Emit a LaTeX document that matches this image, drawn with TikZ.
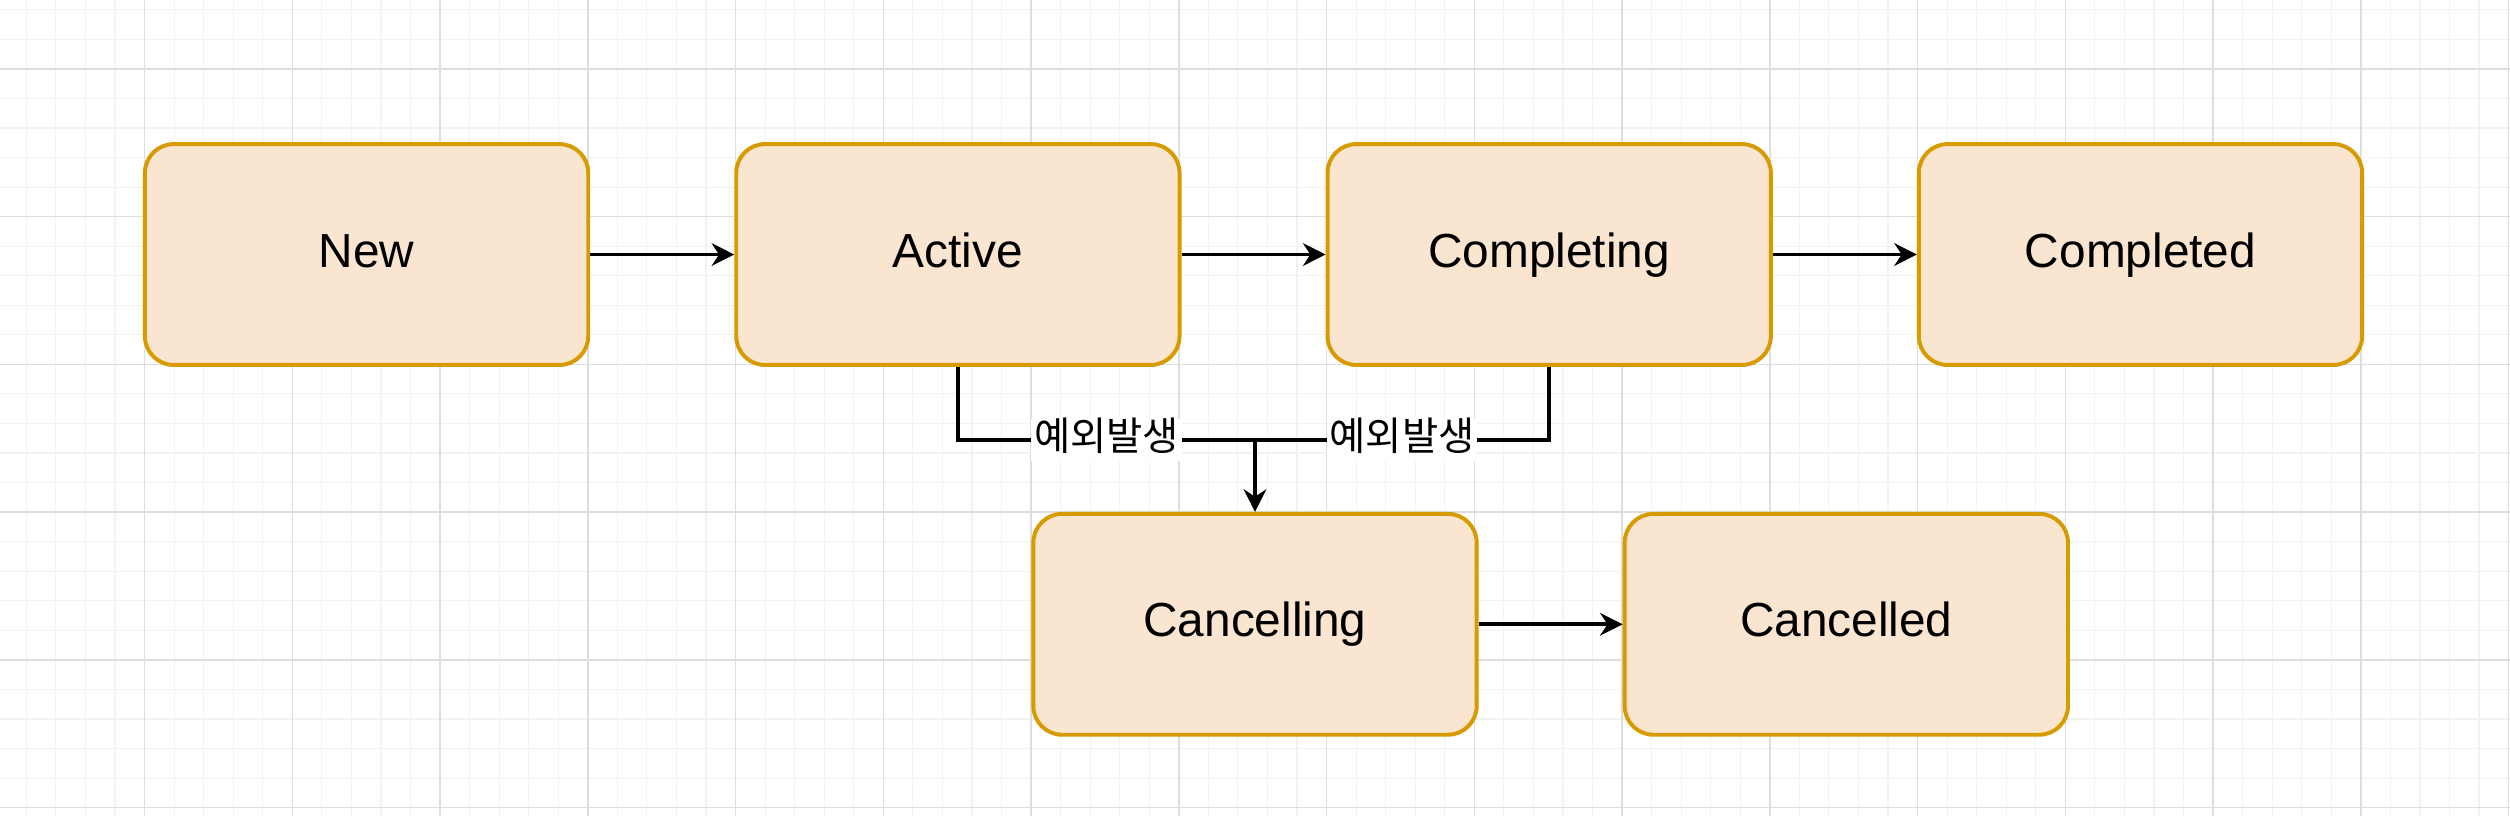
\documentclass[tikz,border=0pt]{standalone}
\usepackage{fontspec}
\setmainfont{Liberation Sans}
\newfontfamily\cjk{Noto Sans CJK KR}
\usetikzlibrary{positioning, arrows.meta}
\definecolor{stfill}{HTML}{FAE6D0}
\definecolor{stdraw}{HTML}{D79B00}
\begin{document}
\begin{tikzpicture}[
    x=0.02cm, y=-0.02cm,
    node distance=1.80cm,
    state/.style={rounded corners=0.36cm, draw=stdraw, fill=stfill, line width=1.4pt,
        minimum width=5.54cm, minimum height=2.76cm, text height=12pt, text depth=3pt,
        font=\fontsize{17}{20}\selectfont},
    flow/.style={-{Stealth[length=8pt, width=8pt]}, line width=1.4pt},
    lbl/.style={fill=white, inner sep=1pt, text height=10pt, text depth=3pt,
        font=\cjk\fontsize{14}{16}\selectfont}
]
   % Background grid
   \useasboundingbox (0,0) rectangle (1568,510);
   \fill[white] (0,0) rectangle (1568,510);
   \foreach \i in {0,...,85}
      \draw[black!5, line width=0.4pt] ({-2+18.46*\i},0) -- ({-2+18.46*\i},510);
   \foreach \i in {0,...,28}
      \draw[black!5, line width=0.4pt] (0,{6.1+18.46*\i}) -- (1568,{6.1+18.46*\i});
   \foreach \i in {0,...,17}
      \draw[black!13, line width=0.5pt] ({-2+92.3*\i},0) -- ({-2+92.3*\i},510);
   \foreach \i in {0,...,5}
      \draw[black!13, line width=0.5pt] (0,{43+92.3*\i}) -- (1568,{43+92.3*\i});

   % States
   \node[state] (new) at (229,159) {New};
   \node[state, right=of new] (active) {Active};
   \node[state, right=of active] (completing) {Completing};
   \node[state, right=of completing] (completed) {Completed};
   \node[state] (cancelling) at (784,390) {Cancelling};
   \node[state, right=of cancelling] (cancelled) {Cancelled};

   % Transitions
   \coordinate (join) at (784,275);
   \draw[flow] (new) -- (active);
   \draw[flow] (active) -- (completing);
   \draw[flow] (completing) -- (completed);
   \draw[flow] (cancelling) -- (cancelled);
   \draw[line width=1.4pt] (active.south) |- (join) node[lbl, pos=0.75] {예외발생};
   \draw[line width=1.4pt] (completing.south) |- (join) node[lbl, pos=0.75] {예외발생};
   \draw[flow] (join) -- (cancelling.north);
\end{tikzpicture}
\end{document}
